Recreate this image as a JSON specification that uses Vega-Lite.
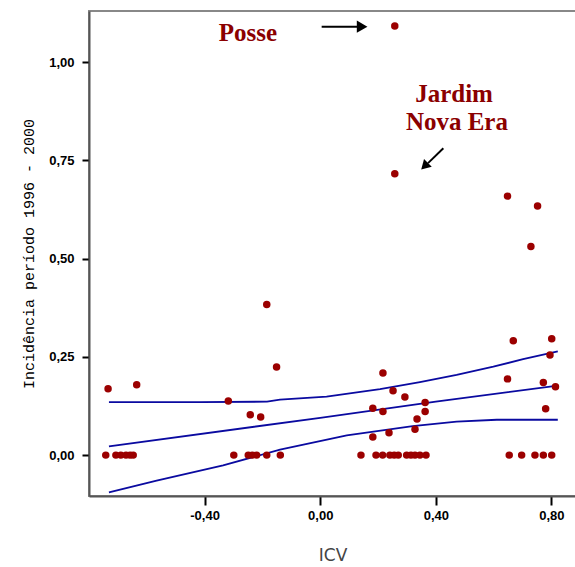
{
  "$schema": "https://vega.github.io/schema/vega-lite/v6.json",
  "width": 487,
  "height": 485,
  "autosize": {"type": "none"},
  "padding": {"left": 89, "top": 11, "right": 0, "bottom": 71},
  "background": "white",
  "config": {
    "locale": {"number": {"decimal": ",", "thousands": ".", "grouping": [3], "currency": ["", ""], "minus": "-"}},
    "view": {"stroke": "#888888", "strokeWidth": 2}
  },
  "datasets": {
    "pts": [
      {"icv": -0.742, "inc": 0}, {"icv": -0.707, "inc": 0}, {"icv": -0.690, "inc": 0}, {"icv": -0.672, "inc": 0}, {"icv": -0.658, "inc": 0}, {"icv": -0.647, "inc": 0},
      {"icv": -0.299, "inc": 0}, {"icv": -0.249, "inc": 0}, {"icv": -0.235, "inc": 0}, {"icv": -0.220, "inc": 0}, {"icv": -0.185, "inc": 0}, {"icv": -0.138, "inc": 0},
      {"icv": 0.141, "inc": 0}, {"icv": 0.193, "inc": 0}, {"icv": 0.216, "inc": 0}, {"icv": 0.241, "inc": 0}, {"icv": 0.256, "inc": 0}, {"icv": 0.270, "inc": 0},
      {"icv": 0.299, "inc": 0}, {"icv": 0.314, "inc": 0}, {"icv": 0.328, "inc": 0}, {"icv": 0.345, "inc": 0}, {"icv": 0.366, "inc": 0},
      {"icv": 0.654, "inc": 0}, {"icv": 0.697, "inc": 0}, {"icv": 0.743, "inc": 0}, {"icv": 0.772, "inc": 0}, {"icv": 0.801, "inc": 0},
      {"icv": -0.734, "inc": 0.169}, {"icv": -0.635, "inc": 0.179}, {"icv": -0.318, "inc": 0.138}, {"icv": -0.242, "inc": 0.103},
      {"icv": -0.206, "inc": 0.097}, {"icv": -0.185, "inc": 0.383}, {"icv": -0.151, "inc": 0.224},
      {"icv": 0.217, "inc": 0.209}, {"icv": 0.252, "inc": 0.164}, {"icv": 0.293, "inc": 0.148}, {"icv": 0.182, "inc": 0.119},
      {"icv": 0.217, "inc": 0.111}, {"icv": 0.363, "inc": 0.134}, {"icv": 0.363, "inc": 0.111}, {"icv": 0.335, "inc": 0.092},
      {"icv": 0.328, "inc": 0.066}, {"icv": 0.238, "inc": 0.057}, {"icv": 0.182, "inc": 0.046},
      {"icv": 0.648, "inc": 0.194}, {"icv": 0.668, "inc": 0.291}, {"icv": 0.772, "inc": 0.185}, {"icv": 0.801, "inc": 0.296},
      {"icv": 0.795, "inc": 0.255}, {"icv": 0.814, "inc": 0.174}, {"icv": 0.780, "inc": 0.118},
      {"icv": 0.648, "inc": 0.659}, {"icv": 0.752, "inc": 0.634}, {"icv": 0.729, "inc": 0.531},
      {"icv": 0.258, "inc": 1.092}, {"icv": 0.258, "inc": 0.716}
    ],
    "fit": [
      {"icv": -0.731, "inc": 0.022, "curve": "ajuste"}, {"icv": 0.0, "inc": 0.095, "curve": "ajuste"}, {"icv": 0.4, "inc": 0.136, "curve": "ajuste"}, {"icv": 0.822, "inc": 0.177, "curve": "ajuste"},
      {"icv": -0.731, "inc": 0.135, "curve": "superior"}, {"icv": -0.416, "inc": 0.135, "curve": "superior"}, {"icv": -0.184, "inc": 0.136, "curve": "superior"},
      {"icv": -0.139, "inc": 0.141, "curve": "superior"}, {"icv": 0.022, "inc": 0.149, "curve": "superior"}, {"icv": 0.207, "inc": 0.168, "curve": "superior"},
      {"icv": 0.345, "inc": 0.186, "curve": "superior"}, {"icv": 0.472, "inc": 0.204, "curve": "superior"}, {"icv": 0.599, "inc": 0.225, "curve": "superior"},
      {"icv": 0.702, "inc": 0.244, "curve": "superior"}, {"icv": 0.822, "inc": 0.264, "curve": "superior"},
      {"icv": -0.731, "inc": -0.095, "curve": "inferior"}, {"icv": -0.566, "inc": -0.065, "curve": "inferior"}, {"icv": -0.336, "inc": -0.026, "curve": "inferior"},
      {"icv": -0.139, "inc": 0.014, "curve": "inferior"}, {"icv": 0.092, "inc": 0.050, "curve": "inferior"}, {"icv": 0.320, "inc": 0.074, "curve": "inferior"},
      {"icv": 0.472, "inc": 0.085, "curve": "inferior"}, {"icv": 0.611, "inc": 0.090, "curve": "inferior"}, {"icv": 0.822, "inc": 0.090, "curve": "inferior"}
    ],
    "notes": [
      {"label": "Posse", "icv": -0.25, "inc": 1.0545},
      {"label": "Jardim", "icv": 0.463, "inc": 0.899},
      {"label": "Nova Era", "icv": 0.473, "inc": 0.827}
    ],
    "arrows": [
      {"id": "posse", "icv": 0.005, "inc": 1.090, "icv2": 0.14, "inc2": 1.090},
      {"id": "jardim", "icv": 0.426, "inc": 0.781, "icv2": 0.373, "inc2": 0.743}
    ],
    "heads": [
      {"id": "posse", "icv": 0.145, "inc": 1.090},
      {"id": "jardim", "icv": 0.361, "inc": 0.735}
    ]
  },
  "encoding": {
    "x": {
      "field": "icv", "type": "quantitative",
      "scale": {"domain": [-0.8, 0.885], "nice": false, "zero": false},
      "axis": {
        "values": [-0.4, 0, 0.4, 0.8], "format": ".2f", "grid": false,
        "title": "ICV", "titleFont": "DejaVu Sans", "titleFontSize": 17, "titleFontWeight": "normal", "titleColor": "#444444", "titlePadding": 25,
        "labelFont": "Liberation Sans", "labelFontSize": 13, "labelFontWeight": "bold", "labelColor": "black", "labelPadding": 4,
        "tickSize": 9, "tickWidth": 2, "tickColor": "black", "domainColor": "#555555", "domainWidth": 2
      }
    },
    "y": {
      "field": "inc", "type": "quantitative",
      "scale": {"domain": [-0.104, 1.13], "nice": false, "zero": false},
      "axis": {
        "values": [0, 0.25, 0.5, 0.75, 1], "format": ".2f", "grid": false,
        "title": "Incidência período 1996 - 2000", "titleFont": "Liberation Mono", "titleFontSize": 15, "titleFontWeight": "normal", "titleColor": "black", "titlePadding": 12,
        "labelFont": "Liberation Sans", "labelFontSize": 13, "labelFontWeight": "bold", "labelColor": "black", "labelPadding": 8,
        "tickSize": 7, "tickWidth": 2, "tickColor": "black", "domainColor": "#555555", "domainWidth": 2
      }
    }
  },
  "layer": [
    {
      "data": {"name": "fit"},
      "mark": {"type": "line", "color": "#0A0AA0", "strokeWidth": 1.8},
      "encoding": {"detail": {"field": "curve", "type": "nominal"}}
    },
    {
      "data": {"name": "pts"},
      "mark": {"type": "point", "shape": "circle", "filled": true, "color": "#9B0000", "opacity": 1, "size": 56}
    },
    {
      "data": {"name": "arrows"},
      "mark": {"type": "rule", "color": "black", "strokeWidth": 2},
      "encoding": {"x2": {"field": "icv2"}, "y2": {"field": "inc2"}}
    },
    {
      "data": {"name": "heads"},
      "transform": [{"filter": "datum.id == 'posse'"}],
      "mark": {"type": "point", "shape": "triangle-right", "filled": true, "color": "black", "opacity": 1, "size": 150}
    },
    {
      "data": {"name": "heads"},
      "transform": [{"filter": "datum.id == 'jardim'"}],
      "mark": {"type": "point", "shape": "triangle-down", "angle": 45, "filled": true, "color": "black", "opacity": 1, "size": 120}
    },
    {
      "data": {"name": "notes"},
      "mark": {"type": "text", "font": "Liberation Serif", "fontSize": 25, "fontWeight": "bold", "color": "#8B0000", "align": "center", "baseline": "alphabetic"},
      "encoding": {"text": {"field": "label", "type": "nominal"}}
    }
  ]
}
